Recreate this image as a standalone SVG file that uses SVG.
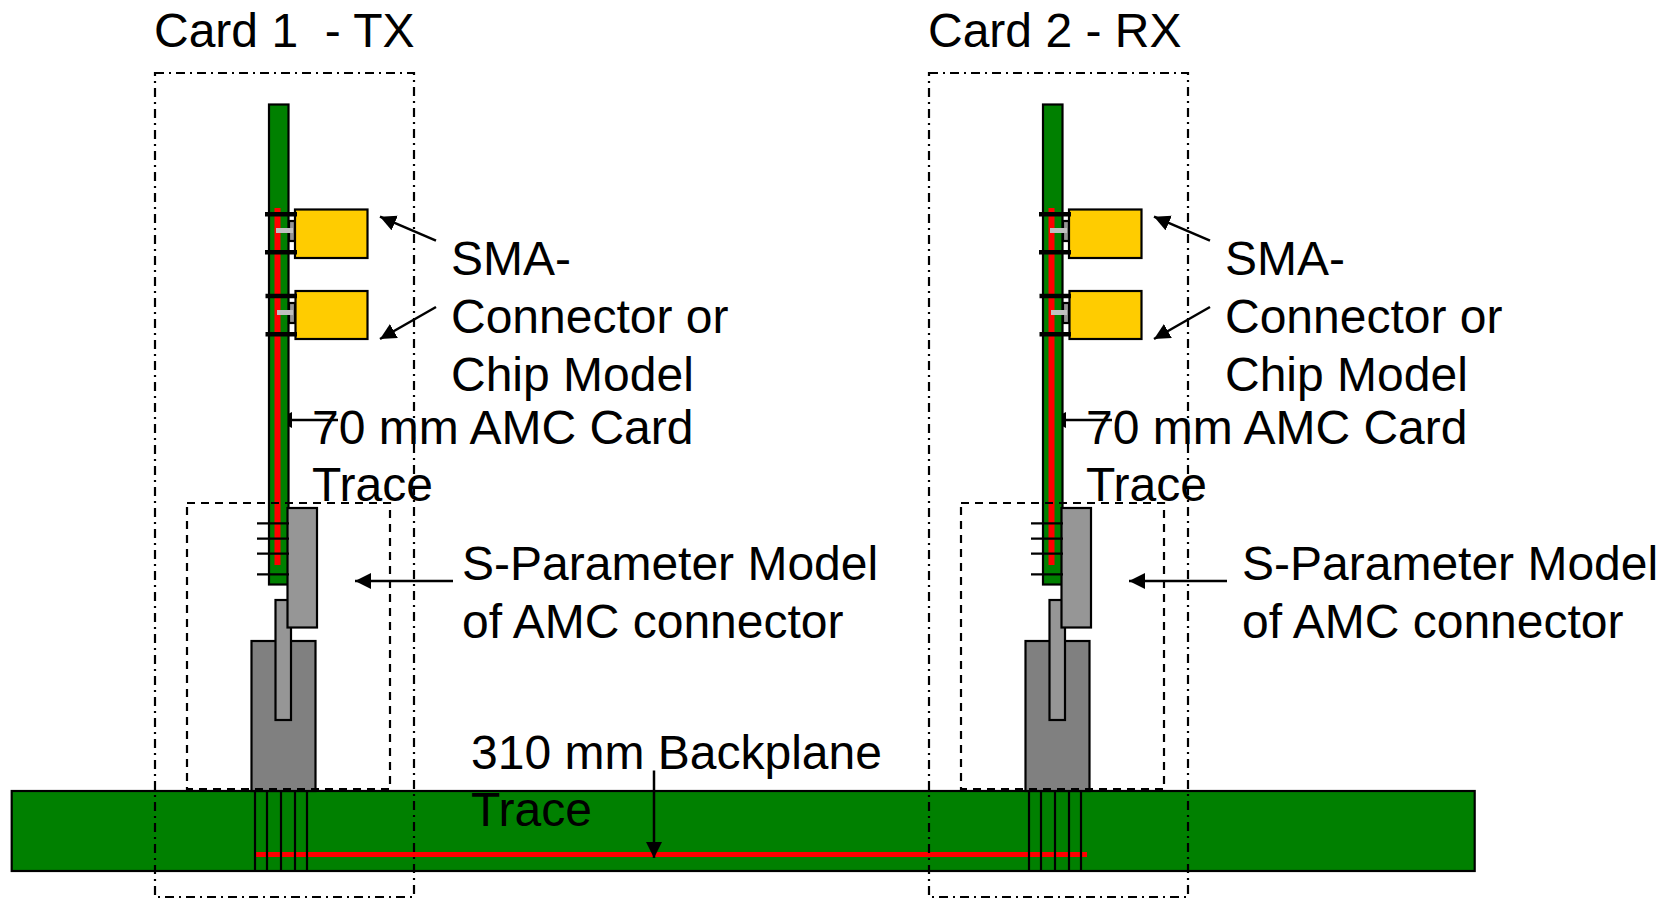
<svg xmlns="http://www.w3.org/2000/svg" xmlns:xlink="http://www.w3.org/1999/xlink" width="1671" height="899" viewBox="0 0 1671 899">
<style>
text{font-family:"Liberation Sans",Arial,sans-serif;font-size:48px;fill:#000;white-space:pre}
.b{stroke:#000;stroke-width:2.2}
.frame{fill:none;stroke:#000;stroke-width:2.2;stroke-dasharray:9 5 2 5}
.dash{fill:none;stroke:#000;stroke-width:2.2;stroke-dasharray:8 6}
.ln{fill:none;stroke:#000;stroke-width:2.2}
.ar{fill:none;stroke:#000;stroke-width:2.5;marker-end:url(#a)}
</style>
<defs>
<marker id="a" markerUnits="userSpaceOnUse" markerWidth="18" markerHeight="16" refX="16" refY="8" orient="auto"><path d="M0 0L16 8L0 16z" fill="#000"/></marker>
<g id="card">
<rect class="b" x="269" y="104.500" width="19.500" height="480" fill="#008000"/>
<rect x="274.500" y="208" width="6" height="357" fill="#f00"/>
<rect x="289" y="221" width="6" height="20" fill="#969696" class="b"/>
<rect x="276" y="228" width="17" height="5" fill="#c0c0c0"/>
<rect x="289" y="303" width="6" height="20" fill="#969696" class="b"/>
<rect x="277" y="310" width="16" height="5" fill="#c0c0c0"/>
<rect class="b" x="295" y="209.500" width="72.500" height="48.500" fill="#fc0"/>
<rect class="b" x="295.500" y="291" width="72" height="48" fill="#fc0"/>
<path d="M265 214.300H297M265 252.300H297M265.500 296H297M265.500 334.300H297" fill="none" stroke="#000" stroke-width="4.500"/>
<rect class="b" x="251.500" y="641" width="64" height="150" fill="#808080"/>
<rect class="b" x="275.500" y="600" width="15.500" height="120" fill="#969696"/>
<rect class="b" x="287.500" y="508" width="29.500" height="119.500" fill="#969696"/>
<path class="ln" d="M257 523.300H289M257 538.700H289M257 553.700H289M257 574.300H289"/>
</g>
<g id="pins"><path class="ln" d="M255 791V871M267 791V871M281 791V871M295 791V871M307 791V871"/></g>
</defs>
<g id="backplane"><rect class="b" x="11.700" y="791" width="1463" height="80" fill="#008000"/><rect x="256" y="852" width="831" height="5" fill="#f00"/><use xlink:href="#pins"/><use xlink:href="#pins" x="774"/></g>
<g id="connectors">
<path class="ar" d="M436 240.700L380 216.700"/><path class="ar" d="M436 307L380 339"/><path class="ar" d="M338 420H276"/><path class="ar" d="M453 581H355"/>
<path class="ar" d="M1210 240.700L1154 216.700"/><path class="ar" d="M1210 307L1154 339"/><path class="ar" d="M1112 420H1050"/><path class="ar" d="M1227 581H1129"/>
<path class="ar" d="M654 770.500V858"/>
</g>
<g id="card1"><use xlink:href="#card"/><rect class="frame" x="155" y="73" width="259" height="824"/><rect class="dash" x="187" y="503" width="203" height="286"/><text x="154" y="47">Card 1  - TX</text><text x="451" y="275">SMA-</text><text x="451" y="333">Connector or</text><text x="451" y="391">Chip Model</text><text x="312" y="444">70 mm AMC Card</text><text x="312" y="501">Trace</text><text x="462" y="580">S-Parameter Model</text><text x="462" y="638">of AMC connector</text></g>
<g id="card2"><use xlink:href="#card" x="774"/><rect class="frame" x="929" y="73" width="259" height="824"/><rect class="dash" x="961" y="503" width="203" height="286"/><text x="928" y="47">Card 2 - RX</text><text x="1225" y="275">SMA-</text><text x="1225" y="333">Connector or</text><text x="1225" y="391">Chip Model</text><text x="1086" y="444">70 mm AMC Card</text><text x="1086" y="501">Trace</text><text x="1242" y="580">S-Parameter Model</text><text x="1242" y="638">of AMC connector</text></g>
<g id="label-backplane"><text x="471" y="769">310 mm Backplane</text><text x="471" y="826">Trace</text></g>
</svg>
